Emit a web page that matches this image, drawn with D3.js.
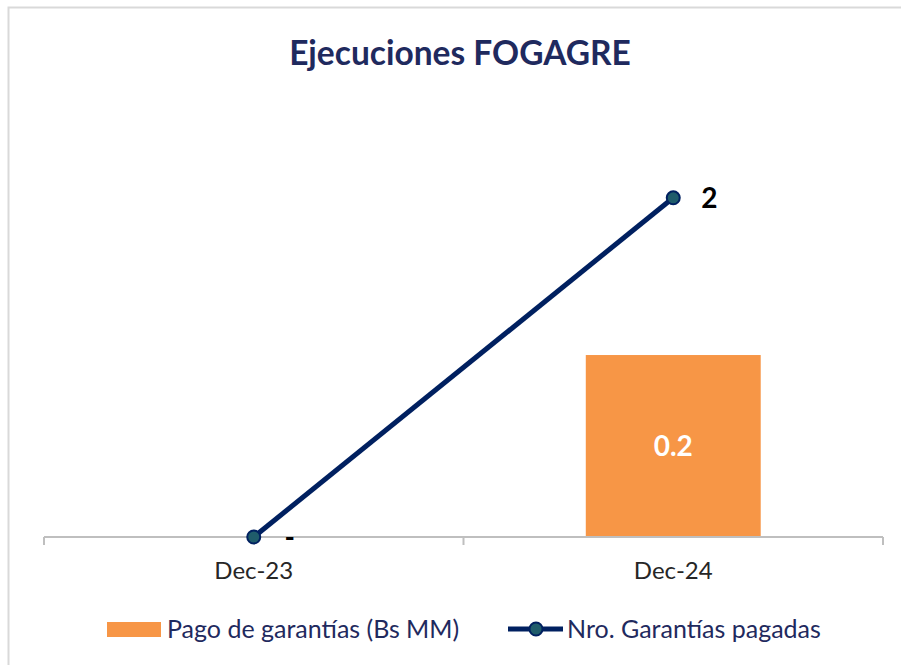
<!DOCTYPE html>
<html>
<head>
<meta charset="utf-8">
<script src="https://cdn.jsdelivr.net/npm/d3@7"></script>
<style>
  body { margin: 0; background: #fff; }
  text { font-family: Lato, "Open Sans", sans-serif; }
</style>
</head>
<body>
<div id="chart"></div>
<script>
// Data
const categories = ['Dec-23', 'Dec-24'];
const pagoGarantias = [0, 0.2];      // bars (Bs MM)
const nroGarantias = [0, 2];         // line
const barLabels = ['', '0.2'];
const lineLabels = ['-', '2'];
const legendLabels = ['Pago de garantías (Bs MM)', 'Nro. Garantías pagadas'];

const width = 901, height = 665;
const margin = {top: 113, right: 18, bottom: 128, left: 44};
const innerW = width - margin.left - margin.right;
const innerH = height - margin.top - margin.bottom;

const svg = d3.select('#chart').append('svg')
    .attr('width', width)
    .attr('height', height);

// outer frame (only top & left edges visible)
svg.append('path')
    .attr('d', `M8.5,${height} V7.5 H${width}`)
    .attr('fill', 'none')
    .attr('stroke', '#d9d9d9')
    .attr('stroke-width', 2);

svg.append('text')
    .attr('x', 460)
    .attr('y', 65)
    .attr('text-anchor', 'middle')
    .attr('font-size', 33.5)
    .attr('font-weight', 'bold')
    .attr('fill', '#1f2a5e')
    .text('Ejecuciones FOGAGRE');

const chart = svg.append('g')
    .attr('transform', `translate(${margin.left},${margin.top})`);

const xScale = d3.scaleBand()
    .domain(categories)
    .range([0, innerW])
    .paddingInner(0)
    .paddingOuter(0);

const yLine = d3.scaleLinear().domain([0, 2.5]).range([innerH, 0]);
const yBar = d3.scaleLinear().domain([0, 0.466]).range([innerH, 0]);

const barW = xScale.bandwidth() * 0.417;

// bars
chart.selectAll('.bar')
    .data(pagoGarantias)
    .join('rect')
    .attr('class', 'bar')
    .attr('x', (d, i) => xScale(categories[i]) + (xScale.bandwidth() - barW) / 2)
    .attr('width', barW)
    .attr('y', d => yBar(d))
    .attr('height', d => innerH - yBar(d))
    .attr('fill', '#f79646');

chart.selectAll('.bar-label')
    .data(pagoGarantias)
    .join('text')
    .attr('class', 'bar-label')
    .attr('x', (d, i) => xScale(categories[i]) + xScale.bandwidth() / 2)
    .attr('y', d => (yBar(d) + innerH) / 2)
    .attr('dy', '0.35em')
    .attr('text-anchor', 'middle')
    .attr('font-size', 28)
    .attr('font-weight', 'bold')
    .attr('fill', '#fff')
    .text((d, i) => barLabels[i]);

// x axis
const xAxis = d3.axisBottom(xScale).tickSize(0).tickPadding(25);
const xAxisG = chart.append('g')
    .attr('transform', `translate(0,${innerH})`)
    .call(xAxis);
xAxisG.select('.domain').remove();
xAxisG.selectAll('text')
    .attr('font-size', 24)
    .attr('fill', '#262626')
    .style('font-family', 'Lato, "Open Sans", sans-serif');

// axis line with boundary ticks
const tickPos = [0, ...categories.map(c => xScale(c) + xScale.bandwidth())];
chart.append('line')
    .attr('x1', 0).attr('x2', innerW)
    .attr('y1', innerH).attr('y2', innerH)
    .attr('stroke', '#bfbfbf').attr('stroke-width', 2);
chart.selectAll('.btick')
    .data(tickPos)
    .join('line')
    .attr('class', 'btick')
    .attr('x1', d => d).attr('x2', d => d)
    .attr('y1', innerH).attr('y2', innerH + 8)
    .attr('stroke', '#bfbfbf').attr('stroke-width', 2);

// line series
const xMid = (d, i) => xScale(categories[i]) + xScale.bandwidth() / 2;
const line = d3.line()
    .x(xMid)
    .y(d => yLine(d));

chart.append('path')
    .datum(nroGarantias)
    .attr('d', line)
    .attr('fill', 'none')
    .attr('stroke', '#002060')
    .attr('stroke-width', 5);

chart.selectAll('.pt')
    .data(nroGarantias)
    .join('circle')
    .attr('class', 'pt')
    .attr('cx', xMid)
    .attr('cy', d => yLine(d))
    .attr('r', 6.5)
    .attr('fill', '#1f5c6b')
    .attr('stroke', '#002060')
    .attr('stroke-width', 2);

chart.selectAll('.pt-label')
    .data(nroGarantias)
    .join('text')
    .attr('class', 'pt-label')
    .attr('x', (d, i) => xMid(d, i) + 36)
    .attr('y', d => yLine(d))
    .attr('dy', '0.35em')
    .attr('text-anchor', 'middle')
    .attr('font-size', 28)
    .attr('font-weight', 'bold')
    .attr('fill', '#000')
    .text((d, i) => lineLabels[i]);

// legend
const legend = svg.append('g').attr('transform', 'translate(0,629)');
legend.append('rect')
    .attr('x', 107).attr('y', -7)
    .attr('width', 54).attr('height', 15)
    .attr('fill', '#f79646');
legend.append('text')
    .attr('x', 167).attr('y', 0).attr('dy', '0.35em')
    .attr('font-size', 25).attr('fill', '#1f2a5e')
    .text(legendLabels[0]);
legend.append('line')
    .attr('x1', 508).attr('x2', 563)
    .attr('y1', 0).attr('y2', 0)
    .attr('stroke', '#002060').attr('stroke-width', 5);
legend.append('circle')
    .attr('cx', 536).attr('cy', 0).attr('r', 6.5)
    .attr('fill', '#1f5c6b')
    .attr('stroke', '#002060').attr('stroke-width', 2);
legend.append('text')
    .attr('x', 567).attr('y', 0).attr('dy', '0.35em')
    .attr('font-size', 25).attr('fill', '#1f2a5e')
    .text(legendLabels[1]);
</script>
</body>
</html>
